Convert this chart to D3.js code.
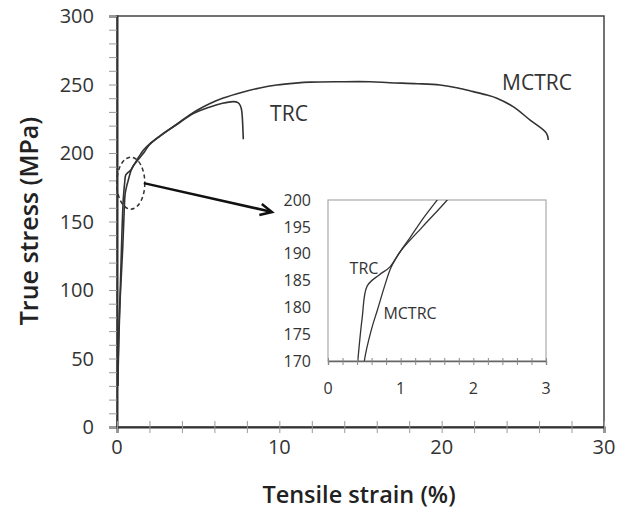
<!DOCTYPE html>
<html><head><meta charset="utf-8">
<script src="https://cdn.jsdelivr.net/npm/d3@7"></script>
<style>body{margin:0;background:#fff}svg{display:block}text{font-family:"Open Sans",sans-serif}</style>
</head><body><svg id="c" width="617" height="512"></svg>
<script>
// ---- data ----
const mctrcStrain = [0.05,0.12,0.2,0.35,0.45,0.5,0.6,0.68,0.78,0.87,1.0,1.11,1.3,1.48,1.62,2.0,2.65,3.0,3.68,4.5,5.1,5.73,6.5,7.78,8.8,9.84,11.0,11.9,13.7,15.6,16.8,18.5,19.9,21.0,21.95,22.8,23.4,24.4,25.45,26.45,26.57];
const mctrcStress = [30,66,95,130,160,170,176,179.5,184,187.5,190.5,192.6,196.4,199.6,202,206.5,212.5,215.5,221,228,232.3,236.2,240,244.6,247.5,249.6,251,251.7,252,252,251.3,250.6,249.6,247.5,244.8,242.3,240,233.8,224,214.5,209.5];
const trcStrain = [0.05,0.1,0.2,0.3,0.38,0.41,0.47,0.54,0.7,0.85,1.0,1.3,1.64,2.0,2.65,3.0,3.68,4.7,5.73,6.5,7.17,7.45,7.6,7.68,7.73,7.76,7.78];
const trcStress = [30,65,100,140,165,170,178,184,186,187.5,190.5,195,200,206,212.3,215.3,220.8,228.8,233.6,236.3,237.5,236.8,234.5,231,224,216,210];
const xTicks = [0,10,20,30];
const yTicks = [0,50,100,150,200,250,300];
const insetXTicks = [0,1,2,3];
const insetYTicks = [170,175,180,185,190,195,200];
const seriesNames = ["MCTRC","TRC"];

const svg = d3.select("#c");
const ink = "#333";

// ---- main scales ----
const x = d3.scaleLinear().domain([0,30]).range([117,604]);
const y = d3.scaleLinear().domain([0,300]).range([427,16]);

// frame (top/right)
svg.append("rect").attr("x",x(0)).attr("y",y(300)).attr("width",x(30)-x(0)).attr("height",y(0)-y(300))
  .attr("fill","none").attr("stroke","#444").attr("stroke-width",1.5);

// y axis
const gy = svg.append("g").attr("transform",`translate(${x(0)},0)`);
gy.call(d3.axisLeft(y).tickValues(d3.range(0,301,10)).tickSize(8).tickFormat(""));
gy.selectAll(".tick line").attr("stroke","#999").attr("stroke-width",1);
gy.select(".domain").attr("stroke","#333").attr("stroke-width",2);
gy.selectAll(".lbl").data(yTicks).enter().append("text")
  .attr("x",-23).attr("y",d=>y(d)).attr("dy","0.36em").attr("text-anchor","end")
  .attr("font-size",20).attr("fill",ink).text(d=>d);

// x axis
const gx = svg.append("g").attr("transform",`translate(0,${y(0)})`);
gx.call(d3.axisBottom(x).tickValues(d3.range(0,31,2)).tickSize(6).tickFormat(""));
gx.selectAll(".tick line").attr("stroke","#999").attr("y1",-6).attr("stroke-width",1);
gx.select(".domain").attr("stroke","#333").attr("stroke-width",2);
gx.selectAll(".lbl").data(xTicks).enter().append("text")
  .attr("x",d=>x(d)).attr("y",27).attr("text-anchor","middle")
  .attr("font-size",20).attr("fill",ink).text(d=>d);

// axis titles
svg.append("text").attr("x",359).attr("y",503).attr("text-anchor","middle")
  .attr("font-size",23.5).attr("font-weight",600).attr("fill","#222").text("Tensile strain (%)");
svg.append("text").attr("transform","translate(38,221) rotate(-90)").attr("text-anchor","middle")
  .attr("font-size",25).attr("font-weight",600).attr("fill","#222").text("True stress (MPa)");

// curves
const mData = mctrcStrain.map((s,i)=>[s,mctrcStress[i]]);
const tData = trcStrain.map((s,i)=>[s,trcStress[i]]);
const line = d3.line().x(d=>x(d[0])).y(d=>y(d[1])).curve(d3.curveCatmullRom);
svg.append("path").attr("d",line(tData))
  .attr("fill","none").attr("stroke","#333").attr("stroke-width",1.6);
svg.append("path").attr("d",line(mData))
  .attr("fill","none").attr("stroke","#333").attr("stroke-width",1.6);

// series labels
svg.append("text").attr("x",537).attr("y",82).attr("dy","0.36em").attr("text-anchor","middle")
  .attr("font-size",21).attr("fill",ink).text(seriesNames[0]);
svg.append("text").attr("x",289).attr("y",113).attr("dy","0.36em").attr("text-anchor","middle")
  .attr("font-size",21).attr("fill",ink).text(seriesNames[1]);

// dashed ellipse + arrow
svg.append("ellipse").attr("cx",x(0.85)).attr("cy",y(178)).attr("rx",14).attr("ry",26)
  .attr("fill","none").attr("stroke","#333").attr("stroke-width",1.5).attr("stroke-dasharray","4,3");
const ax0=[x(0.85)+13,y(178)], ax1=[272,212];
svg.append("line").attr("x1",ax0[0]).attr("y1",ax0[1]).attr("x2",ax1[0]-2).attr("y2",ax1[1]-0.5)
  .attr("stroke","#111").attr("stroke-width",2.5);
{
  const ang=Math.atan2(ax1[1]-ax0[1],ax1[0]-ax0[0]);
  const L=13, w=0.45;
  const p1=[ax1[0]-L*Math.cos(ang-w),ax1[1]-L*Math.sin(ang-w)];
  const p2=[ax1[0]-L*Math.cos(ang+w),ax1[1]-L*Math.sin(ang+w)];
  svg.append("path").attr("d",`M${p1}L${ax1}L${p2}`).attr("fill","none").attr("stroke","#111")
    .attr("stroke-width",2.5).attr("stroke-linejoin","miter");
}

// ---- inset ----
const ix = d3.scaleLinear().domain([0,3]).range([328,546]);
const iy = d3.scaleLinear().domain([170,200]).range([361,200]);
svg.append("rect").attr("x",ix(0)).attr("y",iy(200)).attr("width",ix(3)-ix(0)).attr("height",iy(170)-iy(200))
  .attr("fill","#fff").attr("stroke","#aaa").attr("stroke-width",1.2);
svg.append("defs").append("clipPath").attr("id","ic").append("rect")
  .attr("x",ix(0)).attr("y",iy(200)).attr("width",ix(3)-ix(0)).attr("height",iy(170)-iy(200));
const iline = d3.line().x(d=>ix(d[0])).y(d=>iy(d[1])).curve(d3.curveCatmullRom);
const ig = svg.append("g").attr("clip-path","url(#ic)");
ig.append("path").attr("d",iline(tData)).attr("fill","none").attr("stroke","#333").attr("stroke-width",1.3);
ig.append("path").attr("d",iline(mData)).attr("fill","none").attr("stroke","#333").attr("stroke-width",1.3);

const gix = svg.append("g").attr("transform",`translate(0,${iy(170)})`);
gix.call(d3.axisBottom(ix).tickValues(d3.range(0,3.01,0.2)).tickSize(4).tickFormat(""));
gix.selectAll(".tick line").attr("stroke","#888").attr("y1",-3);
gix.select(".domain").attr("stroke","#666").attr("stroke-width",1.3);
gix.selectAll(".lbl").data(insetXTicks).enter().append("text")
  .attr("x",d=>ix(d)).attr("y",33).attr("text-anchor","middle")
  .attr("font-size",16).attr("fill",ink).text(d=>d);
svg.selectAll(".iyl").data(insetYTicks).enter().append("text")
  .attr("x",311).attr("y",d=>iy(d)).attr("dy","0.36em").attr("text-anchor","end")
  .attr("font-size",16).attr("fill",ink).text(d=>d);
svg.append("text").attr("x",364).attr("y",268).attr("dy","0.36em").attr("text-anchor","middle")
  .attr("font-size",16).attr("fill",ink).text(seriesNames[1]);
svg.append("text").attr("x",410).attr("y",313).attr("dy","0.36em").attr("text-anchor","middle")
  .attr("font-size",16).attr("fill",ink).text(seriesNames[0]);
</script></body></html>
